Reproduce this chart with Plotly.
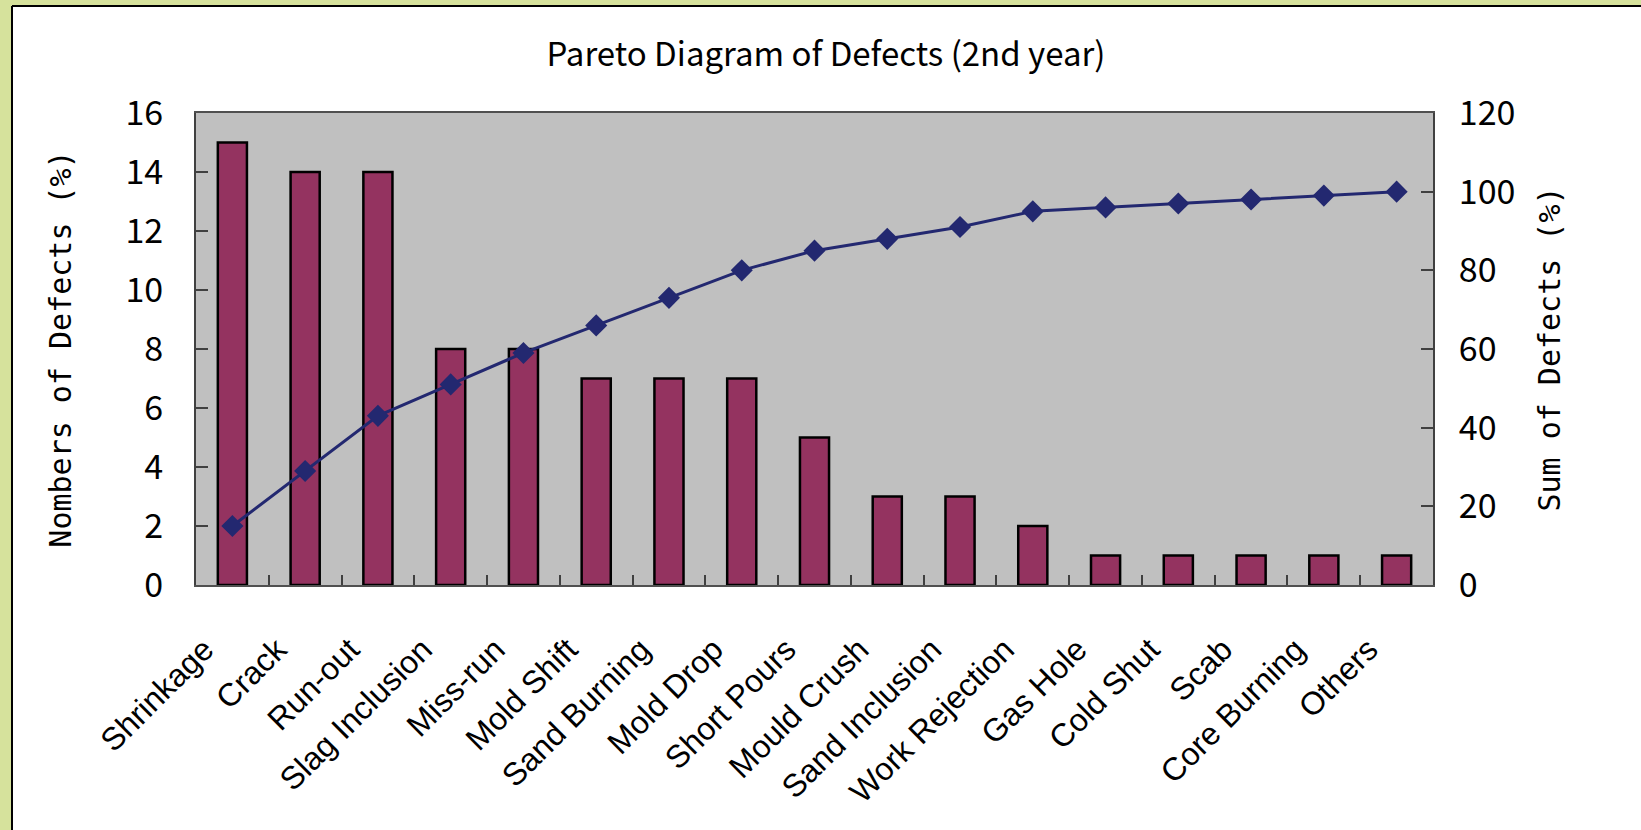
import plotly.graph_objects as go

categories = ["Shrinkage", "Crack", "Run-out", "Slag Inclusion", "Miss-run", "Mold Shift",
              "Sand Burning", "Mold Drop", "Short Pours", "Mould Crush", "Sand Inclusion",
              "Work Rejection", "Gas Hole", "Cold Shut", "Scab", "Core Burning", "Others"]
defects_pct = [15, 14, 14, 8, 8, 7, 7, 7, 5, 3, 3, 2, 1, 1, 1, 1, 1]
cumulative_pct = [15, 29, 43, 51, 59, 66, 73, 80, 85, 88, 91, 95, 96, 97, 98, 99, 100]
left_ticks = [0, 2, 4, 6, 8, 10, 12, 14, 16]
right_ticks = [0, 20, 40, 60, 80, 100, 120]

W, H = 1641, 830
L, R, T, B = 196, 208, 113, 245
pw = W - L - R
ph = H - T - B

num_font = dict(family="Noto Sans CJK JP, Liberation Sans, sans-serif", size=34, color="black")
mono_font = dict(family="DejaVu Sans Mono, monospace", size=30, color="black")

fig = go.Figure()
fig.add_trace(go.Bar(
    x=categories, y=defects_pct, name="Numbers of Defects",
    marker=dict(color="#943360", line=dict(color="black", width=2.5)),
    yaxis="y",
))
fig.add_trace(go.Scatter(
    x=categories, y=cumulative_pct, name="Sum of Defects", yaxis="y2",
    mode="lines+markers",
    line=dict(color="#232870", width=3),
    marker=dict(symbol="diamond", size=17, color="#232870"),
))

def px_x(p):
    return (p - L) / pw

def px_y(p):
    return (H - B - p) / ph

green = "#D6E29C"
shapes = [
    dict(type="rect", xref="paper", yref="paper", x0=px_x(0), x1=px_x(12), y0=px_y(H), y1=px_y(0),
         fillcolor=green, line=dict(width=0), layer="above"),
    dict(type="rect", xref="paper", yref="paper", x0=px_x(0), x1=px_x(W), y0=px_y(6), y1=px_y(0),
         fillcolor=green, line=dict(width=0), layer="above"),
    dict(type="line", xref="paper", yref="paper", x0=px_x(12), x1=px_x(12), y0=px_y(H), y1=px_y(6),
         line=dict(color="black", width=2), layer="above"),
    dict(type="line", xref="paper", yref="paper", x0=px_x(12), x1=px_x(W), y0=px_y(6), y1=px_y(6),
         line=dict(color="black", width=2), layer="above"),
]

fig.update_layout(
    width=W, height=H,
    margin=dict(l=L, r=R, t=T, b=B, autoexpand=False),
    paper_bgcolor="white",
    plot_bgcolor="#C0C0C0",
    showlegend=False,
    bargap=0.6,
    shapes=shapes,
    title=dict(text="Pareto Diagram of Defects (2nd year)", x=826 / W, xanchor="center",
               y=1 - 54 / H, yanchor="middle", xref="container", yref="container",
               font=dict(family="Noto Sans CJK JP, Liberation Sans, sans-serif", size=33, color="black")),
    xaxis=dict(
        type="category", range=[-0.5, len(categories) - 0.5],
        tickangle=-45, tickson="boundaries",
        ticks="inside", ticklen=10, tickwidth=1.5, tickcolor="#404040",
        showline=True, linecolor="#505050", linewidth=2, mirror=True,
        showgrid=False, automargin=False,
        ticklabelstandoff=31, ticklabelshift=-28,
        tickfont=dict(family="Liberation Sans, Arial, sans-serif", size=32, color="black"),
    ),
    yaxis=dict(
        range=[0, 16], tickvals=left_ticks, ticks="inside", ticklen=12, tickcolor="#404040",
        tickwidth=1.5, showline=True, linecolor="#404040", linewidth=2,
        showgrid=False, zeroline=False, automargin=False,
        tickfont=num_font, ticklabelstandoff=24,
        title=dict(text="Nombers of Defects (%)", font=mono_font, standoff=45),
    ),
    yaxis2=dict(
        range=[0, 120], tickvals=right_ticks, overlaying="y", side="right",
        ticks="inside", ticklen=12, tickcolor="#404040", tickwidth=1.5,
        showline=True, linecolor="#404040", linewidth=2,
        showgrid=False, zeroline=False, automargin=False,
        tickfont=num_font, ticklabelstandoff=17,
        title=dict(text="Sum of Defects (%)", font=mono_font, standoff=25),
    ),
)

fig.write_html("out.html", config={"displayModeBar": False},
               post_script="document.body.style.margin='0';")
